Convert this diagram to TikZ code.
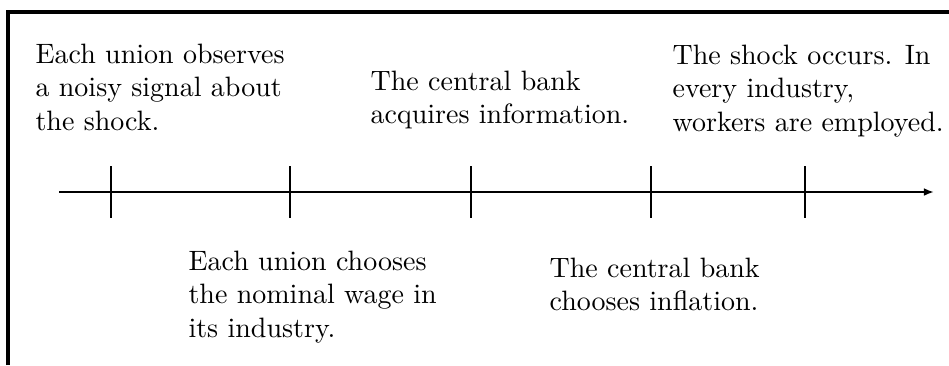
\documentclass[tikz,border=0pt]{standalone}
\usetikzlibrary{arrows.meta}
\begin{document}
\begin{tikzpicture}[x=0.357pt, y=-0.357pt, event/.style = {anchor=north west, align=left, inner sep=0pt}, tick/.style = {line width=0.7pt}]
        \useasboundingbox (0,0) rectangle (949,365);
        % frame
        \coordinate (f1) at (8,365);
        \coordinate (f2) at (8,12);
        \coordinate (f3) at (949,12);
        \draw[line width=1.1pt] (f1) -- (f2) -- (f3);

        % time axis
        \coordinate (start) at (59,192);
        \coordinate (end) at (934,192);
        \draw[tick, -{Latex[length=3.6pt, width=2.8pt]}] (start) -- (end);

        \coordinate (t1) at (111,166); \coordinate (b1) at (111,218);
        \coordinate (t2) at (290,166); \coordinate (b2) at (290,218);
        \coordinate (t3) at (471,166); \coordinate (b3) at (471,218);
        \coordinate (t4) at (651,166); \coordinate (b4) at (651,218);
        \coordinate (t5) at (805,166); \coordinate (b5) at (805,218);
        \draw[tick] (t1) -- (b1);
        \draw[tick] (t2) -- (b2);
        \draw[tick] (t3) -- (b3);
        \draw[tick] (t4) -- (b4);
        \draw[tick] (t5) -- (b5);

        % events above the axis
        \node[event] (signal) at (35,43) {Each union observes\\a noisy signal about\\the shock.};
        \node[event] (info) at (370,70) {The central bank\\acquires information.};
        \node[event] (shock) at (672,44) {The shock occurs. In\\every industry,\\workers are employed.};

        % events below the axis
        \node[event] (wage) at (188,250) {Each union chooses\\the nominal wage in\\its industry.};
        \node[event] (inflation) at (549,257) {The central bank\\chooses inflation.};
    \end{tikzpicture}
\end{document}
